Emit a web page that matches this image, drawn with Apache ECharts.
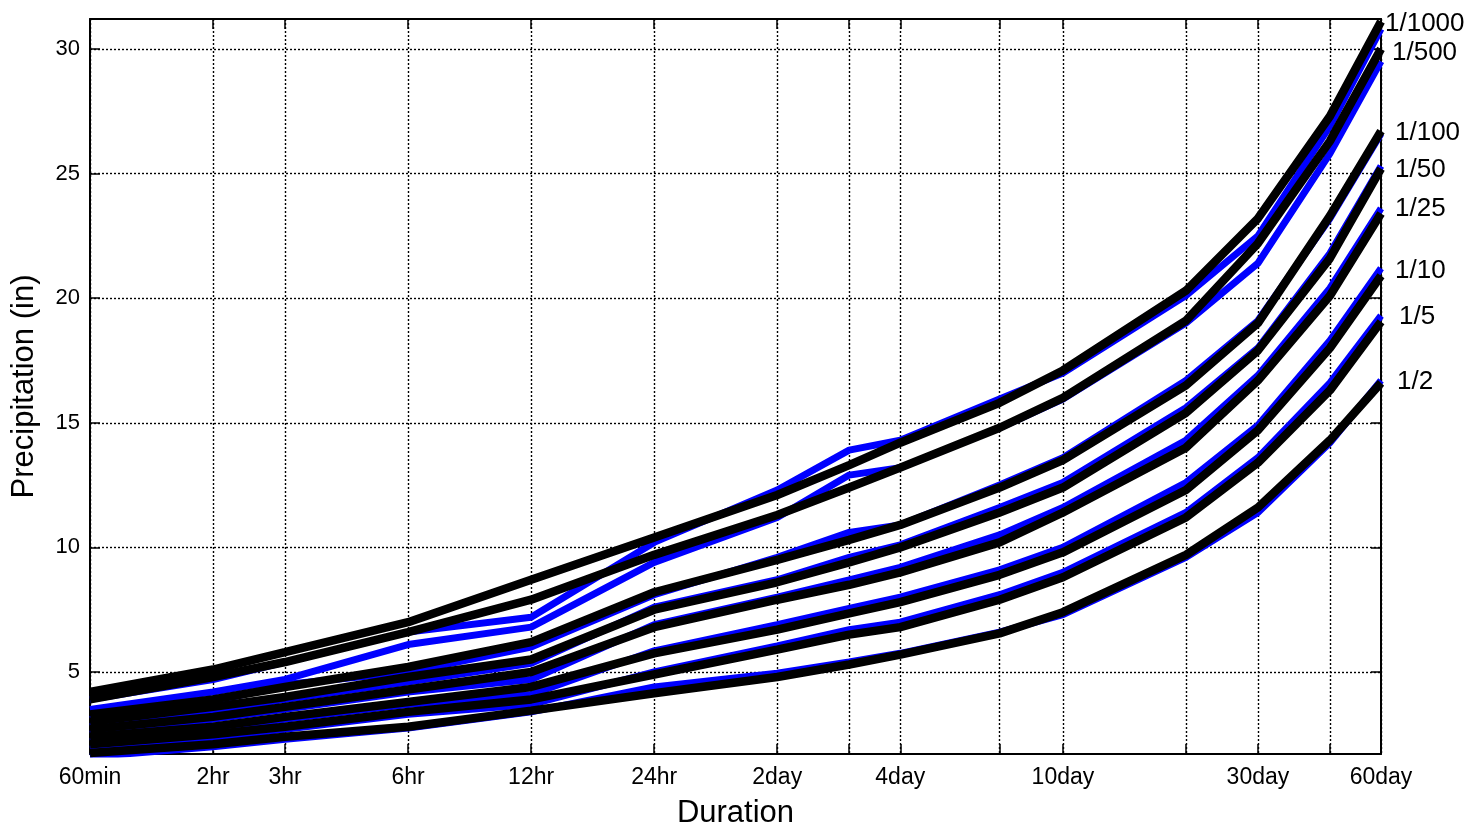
<!DOCTYPE html>
<html>
<head>
<meta charset="utf-8">
<script src="https://cdn.jsdelivr.net/npm/echarts@6/dist/echarts.min.js"></script>
<style>
    html, body { margin: 0; padding: 0; background: #fff; }
    #chart01 { width: 1474px; height: 828px; }
</style>
</head>
<body>
<div id="chart01"></div>
<script>
// durations in hours, tick labels
var hours = [1, 2, 3, 6, 12, 24, 48, 72, 96, 168, 240, 480, 720, 1080, 1440];
var tickText = ['60min', '2hr', '3hr', '6hr', '12hr', '24hr', '2day', '', '4day', '', '10day', '', '30day', '', '60day'];
var periods = ['1/1000', '1/500', '1/100', '1/50', '1/25', '1/10', '1/5', '1/2'];
var yTicks = [5, 10, 15, 20, 25, 30];

// black curves
var black1000 = [4.2, 5.1, 5.8, 7.0, 8.7, 10.4, 12.1, 13.3, 14.2, 15.8, 17.1, 20.3, 23.2, 27.3, 31.1];
var black500 = [3.9, 4.8, 5.4, 6.6, 7.9, 9.7, 11.3, 12.4, 13.2, 14.8, 16.0, 19.1, 22.2, 26.3, 30.0];
var black100 = [3.3, 3.9, 4.4, 5.2, 6.2, 8.2, 9.5, 10.3, 10.9, 12.4, 13.5, 16.5, 19.0, 23.3, 26.7];
var black50 = [3.0, 3.6, 4.0, 4.8, 5.5, 7.5, 8.6, 9.4, 10.0, 11.4, 12.4, 15.4, 17.9, 21.6, 25.2];
var black25 = [2.7, 3.2, 3.6, 4.3, 5.0, 6.8, 7.9, 8.5, 9.0, 10.2, 11.4, 14.0, 16.7, 20.1, 23.4];
var black10 = [2.4, 2.8, 3.2, 3.8, 4.4, 5.75, 6.7, 7.35, 7.8, 8.9, 9.8, 12.3, 14.7, 18.0, 20.9];
var black5 = [2.1, 2.5, 2.8, 3.4, 3.9, 4.9, 5.9, 6.5, 6.8, 7.9, 8.8, 11.2, 13.4, 16.3, 19.05];
var black2 = [1.75, 2.1, 2.4, 2.8, 3.45, 4.15, 4.8, 5.3, 5.7, 6.55, 7.4, 9.7, 11.6, 14.3, 16.6];

// blue curves
var blue1000 = [3.9, 4.7, 5.4, 6.6, 7.2, 10.2, 12.3, 13.9, 14.3, 15.95, 17.0, 20.1, 22.5, 26.9, 30.8];
var blue500 = [3.5, 4.2, 4.7, 6.1, 6.8, 9.4, 11.2, 12.9, 13.2, 14.8, 15.95, 19.0, 21.4, 25.8, 29.5];
var blue100 = [3.1, 3.8, 4.5, 5.0, 6.0, 8.1, 9.6, 10.6, 10.9, 12.5, 13.6, 16.7, 19.1, 23.2, 26.6];
var blue50 = [2.8, 3.4, 3.9, 4.6, 5.35, 7.6, 8.7, 9.6, 10.1, 11.6, 12.6, 15.6, 18.0, 21.8, 25.3];
var blue25 = [2.5, 3.1, 3.5, 4.2, 4.7, 6.9, 8.0, 8.7, 9.2, 10.5, 11.6, 14.3, 16.9, 20.4, 23.6];
var blue10 = [2.2, 2.7, 3.1, 3.7, 4.1, 5.85, 6.9, 7.55, 8.0, 9.1, 10.0, 12.6, 14.9, 18.3, 21.2];
var blue5 = [1.9, 2.35, 2.7, 3.3, 3.7, 5.0, 6.05, 6.7, 7.0, 8.1, 9.0, 11.4, 13.6, 16.6, 19.3];
var blue2 = [1.6, 2.0, 2.3, 2.75, 3.4, 4.4, 4.95, 5.4, 5.75, 6.6, 7.3, 9.6, 11.4, 14.2, 16.7];

var blackSets = [black1000, black500, black100, black50, black25, black10, black5, black2];
var blueSets = [blue1000, blue500, blue100, blue50, blue25, blue10, blue5, blue2];
var labelOffset = [[-4, 2], [3, 4], [6, 2], [6, 1], [6, -5], [6, -5], [10, -5], [8, -1]];

var logHours = hours.map(function (h) { return Math.log10(h); });

function toPoints(vals) {
    return vals.map(function (v, i) { return [logHours[i], v]; });
}

function tickLabel(value) {
    for (var i = 0; i < logHours.length; i++) {
        if (Math.abs(logHours[i] - value) < 1e-6) return tickText[i];
    }
    return '';
}

var font = 'Liberation Sans, Arial, sans-serif';
var gridLine = {show: true, lineStyle: {color: '#000', width: 1.4, type: [2, 2]}};

var series = [];
blueSets.forEach(function (vals, i) {
    series.push({
        name: periods[i] + ' b',
        type: 'line',
        data: toPoints(vals),
        showSymbol: false,
        lineStyle: {color: '#0000ff', width: 7},
        z: 2
    });
});
blackSets.forEach(function (vals, i) {
    series.push({
        name: periods[i],
        type: 'line',
        data: toPoints(vals),
        showSymbol: false,
        lineStyle: {color: '#000', width: 8.5},
        endLabel: {
            show: true,
            formatter: '{a}',
            color: '#000',
            fontSize: 26,
            fontFamily: font,
            offset: labelOffset[i]
        },
        z: 3
    });
});

var xBase = {
    type: 'value',
    min: 0,
    max: logHours[logHours.length - 1],
    axisLine: {show: true, onZero: false, lineStyle: {color: '#000', width: 2}},
    axisTick: {show: true, inside: true, length: 10, customValues: logHours, lineStyle: {color: '#000', width: 1.5}}
};

var yBase = {
    type: 'value',
    min: 1.71,
    max: 31.2,
    axisLine: {show: true, onZero: false, lineStyle: {color: '#000', width: 2}},
    axisTick: {show: true, inside: true, length: 10, customValues: yTicks, lineStyle: {color: '#000', width: 1.5}}
};

var chart01 = echarts.init(document.getElementById('chart01'));
chart01.setOption({
    animation: false,
    backgroundColor: '#fff',
    grid: {left: 90, right: 93, top: 19, bottom: 74, containLabel: false, outerBoundsMode: 'none'},
    xAxis: [
        Object.assign({}, xBase, {
            position: 'bottom',
            name: 'Duration',
            nameLocation: 'middle',
            nameGap: 44,
            nameTextStyle: {fontSize: 31, color: '#000', fontFamily: font},
            axisLabel: {
                customValues: logHours,
                formatter: tickLabel,
                fontSize: 23,
                color: '#000',
                fontFamily: font,
                margin: 12
            },
            splitLine: gridLine
        }),
        Object.assign({}, xBase, {
            position: 'top',
            axisLabel: {show: false},
            splitLine: {show: false}
        })
    ],
    yAxis: [
        Object.assign({}, yBase, {
            position: 'left',
            name: 'Precipitation (in)',
            nameLocation: 'middle',
            nameGap: 50,
            nameTextStyle: {fontSize: 31, color: '#000', fontFamily: font},
            axisLabel: {
                customValues: yTicks,
                fontSize: 22,
                color: '#000',
                fontFamily: font,
                margin: 10
            },
            splitLine: gridLine
        }),
        Object.assign({}, yBase, {
            position: 'right',
            axisLabel: {show: false},
            splitLine: {show: false}
        })
    ],
    series: series
});
</script>
</body>
</html>
